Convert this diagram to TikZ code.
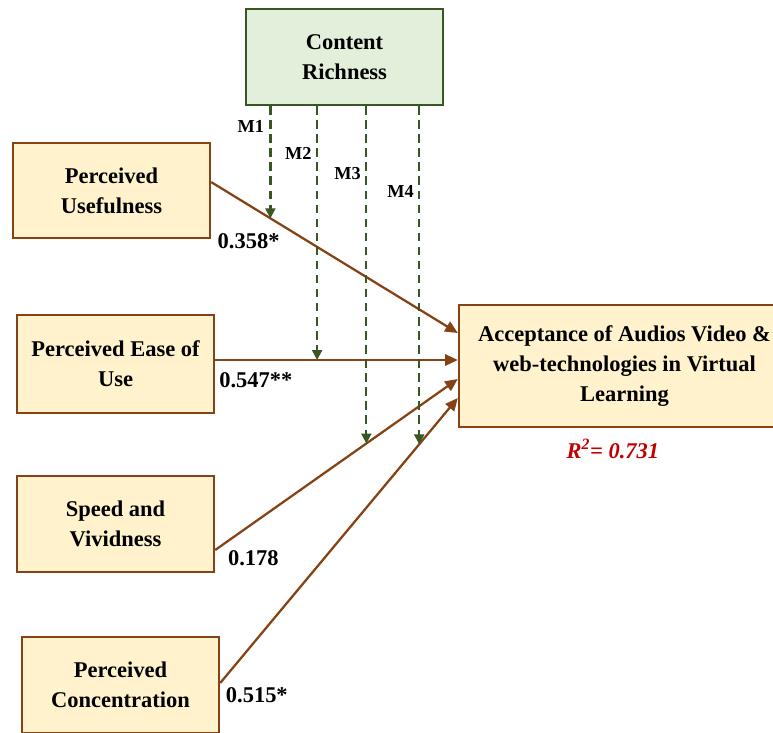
\documentclass[tikz,border=0pt]{standalone}
\usepackage{fontspec}
\setmainfont{Liberation Serif}
\definecolor{conbrown}{RGB}{133, 66, 20}
\definecolor{boxcream}{RGB}{255, 242, 204}
\definecolor{modgreen}{RGB}{56, 87, 35}
\definecolor{modfill}{RGB}{226, 239, 218}
\definecolor{rsqred}{RGB}{192, 0, 0}
\usetikzlibrary{arrows.meta, positioning, calc}

\begin{document}
\begin{tikzpicture}[
  construct/.style={draw=conbrown, line width=1.7pt, fill=boxcream, font=\fontsize{16}{21.3}\selectfont\bfseries, align=center, minimum width=4.925cm, minimum height=2.4cm},
  hyp/.style={-{Triangle[length=9pt, width=8pt]}, line width=1.6pt, conbrown},
  modline/.style={-{Triangle[length=7pt, width=7pt]}, line width=1.6pt, modgreen, dash pattern=on 6pt off 4pt},
  coef/.style={font=\fontsize{16}{19}\selectfont\bfseries, inner sep=1pt},
  mlabel/.style={font=\fontsize{13}{15}\selectfont\bfseries, inner sep=0pt}
]
  \useasboundingbox[fill=white] (0, 0) rectangle (19.325, -18.3);

  % Moderator
  \node[construct, draw=modgreen, fill=modfill] (cr) at (8.6125, -1.425) {Content\\Richness};

  % Predictors
  \node[construct, minimum height=2.375cm] (pu) at (2.7875, -4.7625) {Perceived\\Usefulness};
  \node[construct, minimum height=2.45cm] (peou) at (2.8875, -9.1) {Perceived Ease of\\Use};
  \node[construct] (sv) at (2.8875, -13.1) {Speed and\\Vividness};
  \node[construct] (pc) at (3.0125, -17.125) {Perceived\\Concentration};

  % Outcome
  \node[construct, minimum width=8.275cm, minimum height=3.05cm] (ac) at (15.6125, -9.15) {Acceptance of Audios Video \&\\web-technologies in Virtual\\Learning};
  \node[font=\fontsize{16}{19}\selectfont\bfseries\itshape, text=rsqred, inner sep=1pt] (rsq) at ($(ac.south)+(-0.29, -0.525)$) {R\textsuperscript{2}= 0.731};

  % Paths
  \draw[hyp] ([yshift=0.21cm]pu.east) -- coordinate[pos=0.24] (m1) ([yshift=0.825cm]ac.west);
  \draw[hyp] ([yshift=0.1cm]peou.east) -- coordinate[pos=0.42] (m2) ([yshift=0.15cm]ac.west);
  \draw[hyp] ([yshift=-0.65cm]sv.east) -- coordinate[pos=0.623] (m3) ([yshift=-0.325cm]ac.west);
  \draw[hyp] ([yshift=0.05cm]pc.east) -- coordinate[pos=0.8375] (m4) ([yshift=-0.8cm]ac.west);

  % Coefficients
  \node[coef, anchor=west] (b1) at ($(pu.south east)+(0.12, -0.05)$) {0.358*};
  \node[coef, anchor=west] (b2) at ($(peou.east)+(0.06, -0.4)$) {0.547**};
  \node[coef, anchor=west] (b3) at ($(sv.east)+(0.28, -0.85)$) {0.178};
  \node[coef, anchor=west] (b4) at ($(pc.east)+(0.1, -0.25)$) {0.515*};

  % Moderating effects
  \draw[modline] (cr.south -| m1) -- (m1);
  \draw[modline] (cr.south -| m2) -- (m2);
  \draw[modline] (cr.south -| m3) -- (m3);
  \draw[modline] (cr.south -| m4) -- (m4);
  \node[mlabel, anchor=east] (m1lbl) at ($(cr.south -| m1)+(-0.15, -0.5)$) {M1};
  \node[mlabel, anchor=east] (m2lbl) at ($(cr.south -| m2)+(-0.13, -1.175)$) {M2};
  \node[mlabel, anchor=east] (m3lbl) at ($(cr.south -| m3)+(-0.13, -1.675)$) {M3};
  \node[mlabel, anchor=east] (m4lbl) at ($(cr.south -| m4)+(-0.13, -2.125)$) {M4};
\end{tikzpicture}
\end{document}
